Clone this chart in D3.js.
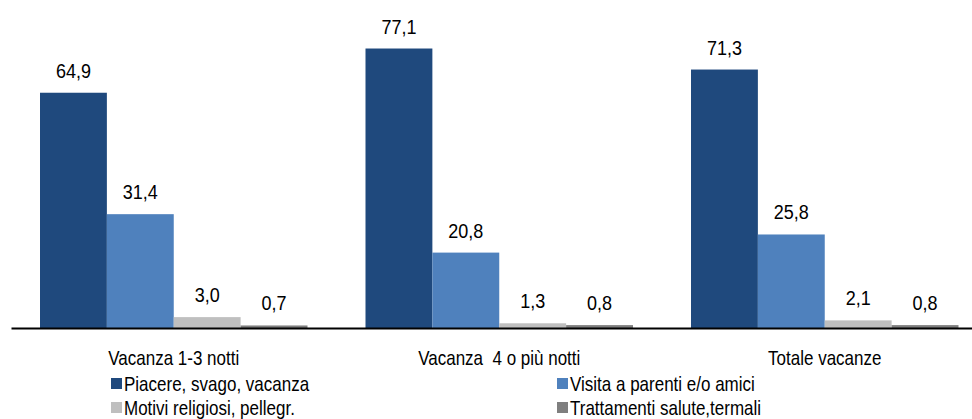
<!DOCTYPE html>
<html>
<head>
<meta charset="utf-8">
<script src="https://cdn.jsdelivr.net/npm/d3@7"></script>
<style>
  body { margin: 0; background: #fff; }
  svg text { font-family: "Liberation Sans", Arial, sans-serif; fill: #000; white-space: pre; }
</style>
</head>
<body>
<div class="chart"></div>
<script>
// data
var categories = ["Vacanza 1-3 notti", "Vacanza  4 o più notti", "Totale vacanze"];
var series = ["Piacere, svago, vacanza", "Visita a parenti e/o amici", "Motivi religiosi, pellegr.", "Trattamenti salute,termali"];
var piacere = [64.9, 77.1, 71.3];
var visita = [31.4, 20.8, 25.8];
var religiosi = [3.0, 1.3, 2.1];
var salute = [0.7, 0.8, 0.8];
var colors = ["#1F497D", "#4F81BD", "#BFBFBF", "#7F7F7F"];

var svgWidth = 972;
var svgHeight = 419;

var svg = d3.select(".chart")
    .append("svg")
    .attr("width", svgWidth)
    .attr("height", svgHeight);

var values = [piacere, visita, religiosi, salute];
var rows = categories.map(function(c, i) {
    return { cat: c, vals: series.map(function(s, j) { return { key: s, value: values[j][i], idx: j }; }) };
});

var x0 = d3.scaleBand()
    .domain(categories)
    .range([11, 11 + 3 * 325.5]);

var x1 = d3.scaleBand()
    .domain(series)
    .range([29, 296.5]);

var y = d3.scaleLinear()
    .domain([0, 80])
    .range([328, 38]);

var fmt = function(v) { return d3.format(".1f")(v).replace(".", ","); };

var groups = svg.selectAll(".grp")
    .data(rows)
    .enter()
    .append("g")
    .attr("class", "grp")
    .attr("transform", d => `translate(${x0(d.cat)},0)`);

groups.selectAll("rect")
    .data(d => d.vals)
    .enter()
    .append("rect")
    .attr("x", d => x1(d.key))
    .attr("y", d => y(d.value))
    .attr("width", x1.bandwidth())
    .attr("height", d => y(0) - y(d.value))
    .attr("fill", d => colors[d.idx]);

groups.selectAll(".val")
    .data(d => d.vals)
    .enter()
    .append("text")
    .attr("class", "val")
    .attr("transform", d => `translate(${x1(d.key) + x1.bandwidth() / 2}, ${y(d.value) - 15}) scale(1,1.1)`)
    .attr("text-anchor", "middle")
    .style("font-size", "18px")
    .text(d => fmt(d.value));

// x axis
var xAxis = svg.append("g")
    .attr("transform", `translate(0, ${y(0)})`)
    .call(d3.axisBottom(x0).tickSize(0).tickPadding(0));

xAxis.select(".domain")
    .attr("stroke", "#000")
    .attr("stroke-width", 2);

xAxis.selectAll("text")
    .attr("y", null)
    .attr("dy", null)
    .attr("transform", "translate(0, 37) scale(1,1.2)")
    .style("font-size", "17px")
    .style("font-family", "'Liberation Sans', Arial, sans-serif");

// legend
var legendPos = [[111, 384], [557, 384], [111, 408], [557, 408]];
var legend = svg.selectAll(".leg")
    .data(series)
    .enter()
    .append("g")
    .attr("class", "leg")
    .attr("transform", (d, i) => `translate(${legendPos[i][0]}, ${legendPos[i][1]})`);

legend.append("rect")
    .attr("x", 0)
    .attr("y", -6)
    .attr("width", 11)
    .attr("height", 11)
    .attr("fill", (d, i) => colors[i]);

legend.append("text")
    .attr("transform", "translate(13, 7) scale(1,1.2)")
    .style("font-size", "17px")
    .text(d => d);
</script>
</body>
</html>
